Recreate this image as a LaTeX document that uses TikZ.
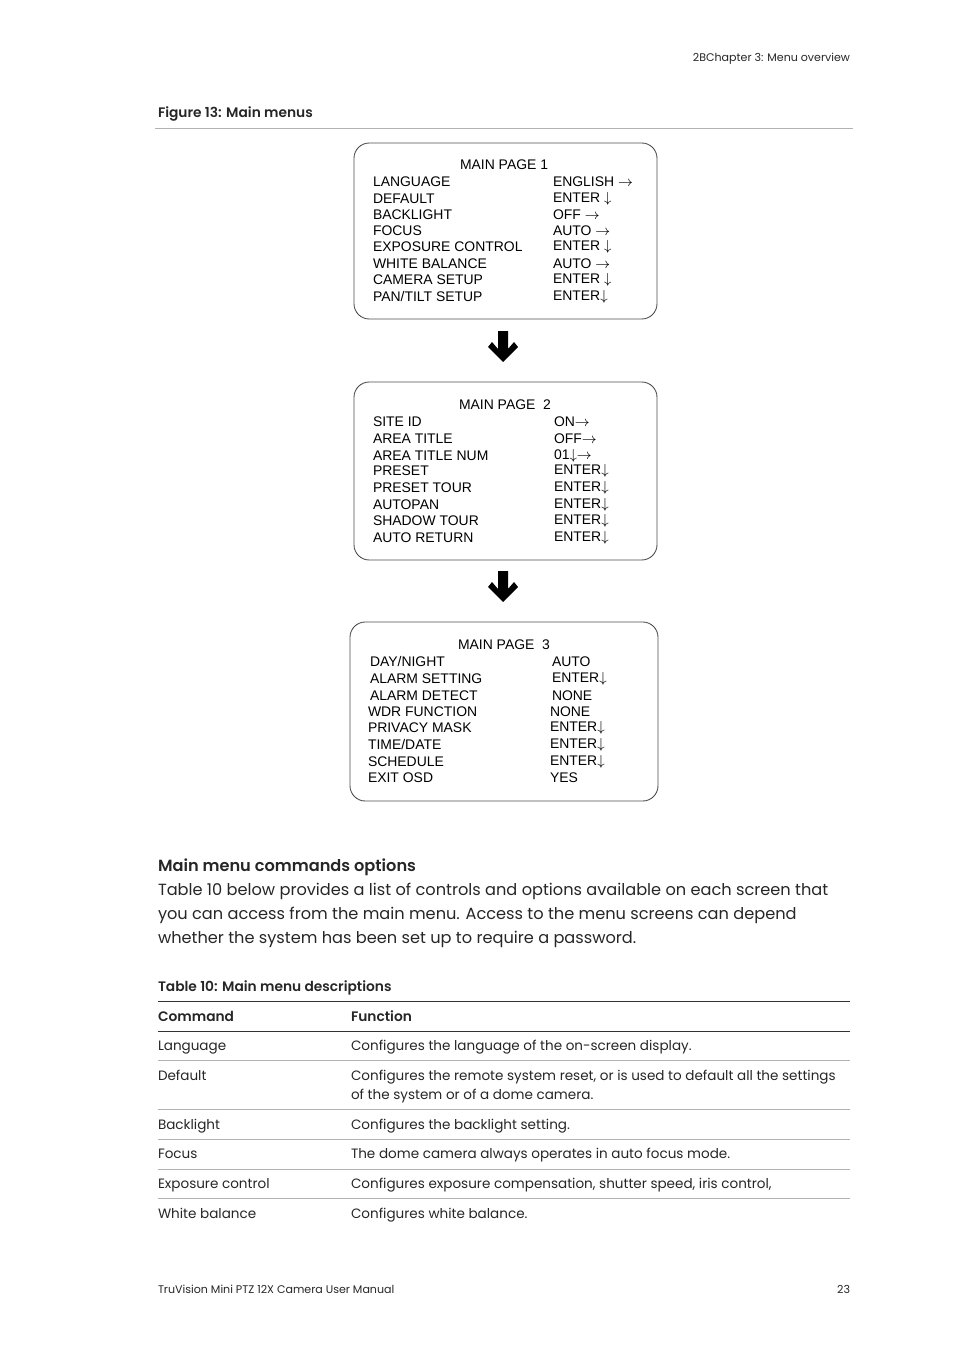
\documentclass[tikz,border=0pt]{standalone}
\usepackage{fontspec}
\setmainfont{Poppins}[BoldFont={Poppins SemiBold}]
\newfontfamily\menufont{Liberation Sans}
\begin{document}
\begin{tikzpicture}[x=0.624pt,y=-0.624pt,
  every node/.style={inner sep=0pt,outer sep=0pt},
  menubox/.style={draw=black!70,line width=0.55pt,rounded corners=9.5pt},
  mtxt/.style={anchor=west,font=\menufont\fontsize{8.7pt}{9pt}\selectfont},
  mtitle/.style={anchor=west,font=\menufont\fontsize{8.7pt}{9pt}\selectfont},
  bigarrow/.style={fill=black},
  body/.style={anchor=base west,font=\fontsize{10.1pt}{15pt}\selectfont,text=black!85},
  small/.style={font=\fontsize{6.9pt}{9pt}\selectfont,text=black!85},
  cell/.style={anchor=base west,font=\fontsize{8.45pt}{12pt}\selectfont,text=black!85},
  cellb/.style={anchor=base west,font=\fontsize{8.6pt}{12pt}\selectfont\bfseries,text=black!85},
  grule/.style={draw=black!30,line width=0.6pt},
  drule/.style={draw=black!80,line width=0.6pt}]
\useasboundingbox (0,0) rectangle (954,1350);
% header
\node[small,anchor=base east] (hdr) at (850,62) {2BChapter 3: Menu overview};
\node[cellb,anchor=base west] (fig) at (158,118) {Figure 13: Main menus};
\coordinate (r0a) at (155,128); \coordinate (r0b) at (853,128);
\draw[grule] (r0a) -- (r0b);
% box 1
\draw[menubox] (354,143) rectangle (657,319);
\node[mtitle] (t1) at (460,165) {MAIN PAGE 1};
\foreach \l/\r/\y [count=\i] in {LANGUAGE/{ENGLISH $\rightarrow$}/182,DEFAULT/{ENTER $\downarrow$}/199,BACKLIGHT/{OFF $\rightarrow$}/215,FOCUS/{AUTO $\rightarrow$}/231,EXPOSURE CONTROL/{ENTER $\downarrow$}/247,WHITE BALANCE/{AUTO $\rightarrow$}/264,CAMERA SETUP/{ENTER $\downarrow$}/280,{PAN/TILT SETUP}/{ENTER$\downarrow$}/297}{
  \node[mtxt] (a\i) at (373,\y) {\l};
  \node[mtxt] (b\i) at (553,\y) {\r};
}
% arrow 1
\fill[bigarrow] (498,331) -- (508,331) -- (508,349) -- (514,342) -- (518,347) -- (503,362) -- (488,347) -- (492,342) -- (498,349) -- cycle;
% box 2
\draw[menubox] (354,382) rectangle (657,560);
\node[mtitle] (t2) at (459,405) {MAIN PAGE\ \ 2};
\foreach \l/\r/\y [count=\i] in {SITE ID/{ON$\rightarrow$}/422,AREA TITLE/{OFF$\rightarrow$}/439,AREA TITLE NUM/{01$\downarrow\rightarrow$}/456,PRESET/{ENTER$\downarrow$}/471,PRESET TOUR/{ENTER$\downarrow$}/488,AUTOPAN/{ENTER$\downarrow$}/505,SHADOW TOUR/{ENTER$\downarrow$}/521,AUTO RETURN/{ENTER$\downarrow$}/538}{
  \node[mtxt] (c\i) at (373,\y) {\l};
  \node[mtxt] (d\i) at (554,\y) {\r};
}
% arrow 2
\fill[bigarrow] (498,571) -- (508,571) -- (508,589) -- (514,582) -- (518,587) -- (503,602) -- (488,587) -- (492,582) -- (498,589) -- cycle;
% box 3
\draw[menubox] (350,622) rectangle (658,801);
\node[mtitle] (t3) at (458,645) {MAIN PAGE\ \ 3};
\foreach \l/\lx/\r/\rx/\y [count=\i] in {{DAY/NIGHT}/370/AUTO/552/662,ALARM SETTING/370/{ENTER$\downarrow$}/552/679,ALARM DETECT/370/NONE/552/696,WDR FUNCTION/368/NONE/550/712,PRIVACY MASK/368/{ENTER$\downarrow$}/550/728,{TIME/DATE}/368/{ENTER$\downarrow$}/550/745,SCHEDULE/368/{ENTER$\downarrow$}/550/762,EXIT OSD/368/YES/550/778}{
  \node[mtxt] (e\i) at (\lx,\y) {\l};
  \node[mtxt] (f\i) at (\rx,\y) {\r};
}
% body text
\node[body,font=\fontsize{10.1pt}{15pt}\selectfont\bfseries] (h2) at (158,871) {Main menu commands options};
\node[body] (p1) at (158,895) {Table 10 below provides a list of controls and options available on each screen that};
\node[body] (p2) at (158,919) {you can access from the main menu. Access to the menu screens can depend};
\node[body] (p3) at (158,943) {whether the system has been set up to require a password.};
% table
\node[cellb] (tcap) at (158,991) {Table 10: Main menu descriptions};
\coordinate (ra1) at (158,1001); \coordinate (rb1) at (850,1001);
\draw[drule] (ra1) -- (rb1);
\node[cellb] (th1) at (158,1021) {Command};
\node[cellb] (th2) at (351,1021) {Function};
\coordinate (ra2) at (158,1031); \coordinate (rb2) at (850,1031);
\draw[drule] (ra2) -- (rb2);
\node[cell] (c1) at (158,1050) {Language};
\node[cell] (f1) at (351,1050) {Configures the language of the on-screen display.};
\coordinate (ra3) at (158,1060); \coordinate (rb3) at (850,1060);
\draw[grule] (ra3) -- (rb3);
\node[cell] (c2) at (158,1080) {Default};
\node[cell] (f2) at (351,1080) {Configures the remote system reset, or is used to default all the settings};
\node[cell] (f2b) at (351,1099) {of the system or of a dome camera.};
\coordinate (ra4) at (158,1109); \coordinate (rb4) at (850,1109);
\draw[grule] (ra4) -- (rb4);
\node[cell] (c3) at (158,1129) {Backlight};
\node[cell] (f3) at (351,1129) {Configures the backlight setting.};
\coordinate (ra5) at (158,1139); \coordinate (rb5) at (850,1139);
\draw[grule] (ra5) -- (rb5);
\node[cell] (c4) at (158,1158) {Focus};
\node[cell] (f4) at (351,1158) {The dome camera always operates in auto focus mode.};
\coordinate (ra6) at (158,1169); \coordinate (rb6) at (850,1169);
\draw[grule] (ra6) -- (rb6);
\node[cell] (c5) at (158,1188) {Exposure control};
\node[cell] (f5) at (351,1188) {Configures exposure compensation, shutter speed, iris control,};
\coordinate (ra7) at (158,1198); \coordinate (rb7) at (850,1198);
\draw[grule] (ra7) -- (rb7);
\node[cell] (c6) at (158,1218) {White balance};
\node[cell] (f6) at (351,1218) {Configures white balance.};
% footer
\node[small,anchor=base west] (ft1) at (158,1293) {TruVision Mini PTZ 12X Camera User Manual};
\node[small,anchor=base east] (ft2) at (850,1293) {23};
\end{tikzpicture}
\end{document}
